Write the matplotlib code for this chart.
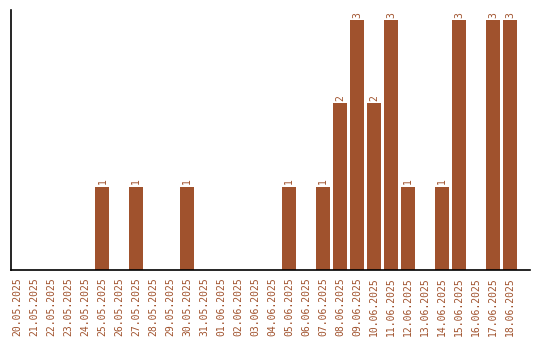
import matplotlib
matplotlib.use("Agg")
import matplotlib.pyplot as plt

dates = ["20.05.2025","21.05.2025","22.05.2025","23.05.2025","24.05.2025","25.05.2025",
         "26.05.2025","27.05.2025","28.05.2025","29.05.2025","30.05.2025","31.05.2025",
         "01.06.2025","02.06.2025","03.06.2025","04.06.2025","05.06.2025","06.06.2025",
         "07.06.2025","08.06.2025","09.06.2025","10.06.2025","11.06.2025","12.06.2025",
         "13.06.2025","14.06.2025","15.06.2025","16.06.2025","17.06.2025","18.06.2025"]
values = [0,0,0,0,0,1,0,1,0,0,1,0,0,0,0,0,1,0,1,2,3,2,3,1,0,1,3,0,3,3]

color = "#A0522D"
fig = plt.figure(figsize=(5.4, 3.4), dpi=100)
ax = fig.add_axes([11/540, 1-270/340, 519/540, 260/340])
x = list(range(len(dates)))
ax.bar(x, values, width=0.82, color=color)
for xi, v in zip(x, values):
    if v > 0:
        ax.text(xi, v + 0.03, str(v), rotation=90, ha="center", va="bottom",
                color=color, fontsize=7, family="DejaVu Sans Mono")
ax.set_xlim(-0.38, 30.18)
ax.set_ylim(0, 3.12)
ax.set_xticks(x)
ax.set_xticklabels(dates, rotation=90, color=color, fontsize=7, family="DejaVu Sans Mono")
ax.tick_params(axis="x", length=0, pad=5)
ax.set_yticks([])
for s in ["top", "right"]:
    ax.spines[s].set_visible(False)
ax.spines["left"].set_linewidth(1.2)
ax.spines["bottom"].set_linewidth(1.2)
fig.savefig("out.png", dpi=100)
